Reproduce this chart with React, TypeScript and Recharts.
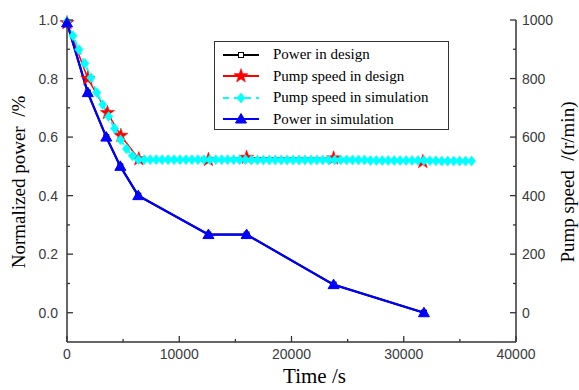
import React from "react";
import { ComposedChart, Line, XAxis, YAxis, Legend } from "recharts";

// Power (normalized) - design and simulation share the same operating points
const powerTimes = [0, 1850, 3500, 4750, 6350, 12600, 16000, 23750, 31800];
const powerDesign = [0.99, 0.752, 0.6, 0.5, 0.4, 0.267, 0.267, 0.096, 0.0];
const powerSim = [0.99, 0.752, 0.6, 0.5, 0.4, 0.267, 0.267, 0.096, 0.0];

// Pump speed in design (r/min)
const speedDesignTimes = [0, 1850, 3600, 4800, 6400, 12600, 16000, 23750, 31700];
const speedDesign = [990, 800, 683, 605, 525, 523, 530, 528, 516];

// Pump speed in simulation (r/min)
const speedSimTimes = [
  0, 530, 1060, 1590, 2120, 2650, 3180, 3710, 4240, 4770, 5300, 5830, 6360,
  6890, 7420, 7950, 8480, 9010, 9540, 10070, 10600, 11130, 11660, 12190, 12720,
  13250, 13780, 14310, 14840, 15370, 15900, 16430, 16960, 17490, 18020, 18550,
  19080, 19610, 20140, 20670, 21200, 21730, 22260, 22790, 23320, 23850, 24380,
  24910, 25440, 25970, 26500, 27030, 27560, 28090, 28620, 29150, 29680, 30210,
  30740, 31270, 31800, 32330, 32860, 33390, 33920, 34450, 34980, 35510, 36040,
];
const speedSim = [
  995, 946, 899, 851, 803, 752, 711, 670, 629, 591, 560, 536, 523,
  523, 523, 523, 523, 523, 523, 523, 523, 523, 523, 523, 523,
  523, 523, 523, 523, 523, 523, 522, 522, 522, 522, 522,
  522, 522, 522, 522, 522, 522, 522, 522, 522, 522, 522,
  522, 522, 522, 522, 520, 520, 520, 520, 520, 520, 520,
  520, 520, 520, 519, 519, 518, 518, 518, 518, 518, 518,
];

const xTicks = [0, 5000, 10000, 15000, 20000, 25000, 30000, 35000, 40000];
const powerTicks = [0, 0.1, 0.2, 0.3, 0.4, 0.5, 0.6, 0.7, 0.8, 0.9, 1.0];
const speedTicks = [0, 100, 200, 300, 400, 500, 600, 700, 800, 900, 1000];

const legendItems = [
  { name: "Power in design", color: "#000000", marker: "square", dashed: false },
  { name: "Pump speed in design", color: "#ff0000", marker: "star", dashed: false },
  { name: "Pump speed in simulation", color: "#00ffff", marker: "diamond", dashed: true },
  { name: "Power in simulation", color: "#0000ff", marker: "triangle", dashed: false },
];

const toRows = (ts: number[], vs: number[]) => ts.map((t, i) => ({ t, v: vs[i] }));
const powerDesignData = toRows(powerTimes, powerDesign);
const powerSimData = toRows(powerTimes, powerSim);
const speedDesignData = toRows(speedDesignTimes, speedDesign);
const speedSimData = toRows(speedSimTimes, speedSim);

const axisColor = "#333";
const tickFont = { fontFamily: "'Liberation Sans', Arial, sans-serif", fontSize: 14, fill: "#3a3a3a" };
const titleFont = { fontFamily: "'Liberation Serif', 'Times New Roman', serif", fill: "#000" };

function Marker({ kind, cx, cy, color }: { kind: string; cx: number; cy: number; color: string }) {
  if (kind === "square") {
    return <rect x={cx - 2.5} y={cy - 2.5} width={5} height={5} fill="#fff" stroke={color} strokeWidth={1} />;
  }
  if (kind === "triangle") {
    const pts = `${cx},${cy - 5.5} ${cx - 5.5},${cy + 4} ${cx + 5.5},${cy + 4}`;
    return <polygon points={pts} fill={color} stroke={color} strokeWidth={1} />;
  }
  if (kind === "diamond") {
    const pts = `${cx},${cy - 5} ${cx + 4.2},${cy} ${cx},${cy + 5} ${cx - 4.2},${cy}`;
    return <polygon points={pts} fill={color} stroke={color} strokeWidth={0.5} />;
  }
  // star
  const pts: string[] = [];
  for (let k = 0; k < 10; k++) {
    const r = k % 2 === 0 ? 7.5 : 3;
    const a = -Math.PI / 2 + (k * Math.PI) / 5;
    pts.push(`${cx + r * Math.cos(a)},${cy + r * Math.sin(a)}`);
  }
  return <polygon points={pts.join(" ")} fill={color} stroke={color} strokeWidth={0.5} />;
}

const dot = (kind: string, color: string) => (props: any) => (
  <Marker key={`${kind}-${props.index}`} kind={kind} cx={props.cx} cy={props.cy} color={color} />
);

const BottomTick = (props: any) => {
  const { x, y, payload } = props;
  const major = payload.value % 10000 === 0;
  return (
    <g>
      <line x1={x} y1={y} x2={x} y2={y - (major ? 6 : 3)} stroke={axisColor} strokeWidth={1.3} />
      {major && (
        <text x={x} y={y + 17} textAnchor="middle" {...tickFont}>
          {payload.value}
        </text>
      )}
    </g>
  );
};

const LeftTick = (props: any) => {
  const { x, y, payload } = props;
  const major = Math.round(payload.value * 10) % 2 === 0;
  return (
    <g>
      <line x1={x} y1={y} x2={x + (major ? 6 : 3)} y2={y} stroke={axisColor} strokeWidth={1.3} />
      {major && (
        <text x={x - 9} y={y + 5} textAnchor="end" {...tickFont}>
          {payload.value.toFixed(1)}
        </text>
      )}
    </g>
  );
};

const RightTick = (props: any) => {
  const { x, y, payload } = props;
  const major = payload.value % 200 === 0;
  return (
    <g>
      <line x1={x} y1={y} x2={x - (major ? 6 : 3)} y2={y} stroke={axisColor} strokeWidth={1.3} />
      {major && (
        <text x={x + 6} y={y + 5} textAnchor="start" {...tickFont}>
          {payload.value}
        </text>
      )}
    </g>
  );
};

const LegendBox = () => (
  <div
    style={{
      width: 235,
      height: 89,
      border: "1.5px solid #333",
      boxSizing: "border-box",
      background: "#fff",
      paddingTop: 2,
    }}
  >
    {legendItems.map((it) => (
      <div key={it.name} style={{ display: "flex", alignItems: "center", height: 21.5 }}>
        <svg width={50} height={20} style={{ marginLeft: 6, flex: "none" }}>
          <line
            x1={2}
            y1={10}
            x2={38}
            y2={10}
            stroke={it.color}
            strokeWidth={2}
            strokeDasharray={it.dashed ? "6 5" : undefined}
          />
          <Marker kind={it.marker} cx={20} cy={10} color={it.color} />
        </svg>
        <span
          style={{
            ...titleFont,
            color: "#000",
            fontSize: 15,
            marginLeft: 2,
            whiteSpace: "nowrap",
          }}
        >
          {it.name}
        </span>
      </div>
    ))}
  </div>
);

export default function App() {
  return (
    <div style={{ position: "absolute", left: 0, top: 0, background: "#fff" }}>
      <ComposedChart width={579} height={390} margin={{ top: 20, right: 0, bottom: 0, left: 0 }}>
        <XAxis
          dataKey="t"
          type="number"
          domain={[0, 40000]}
          ticks={xTicks}
          interval={0}
          height={48}
          tickSize={0}
          tickMargin={0}
          tick={BottomTick}
          axisLine={{ stroke: axisColor, strokeWidth: 1.5 }}
          allowDuplicatedCategory={false}
          label={{
            value: "Time /s",
            content: (p: any) => {
              const vb = p.viewBox;
              return (
                <text x={vb.x + vb.width / 2 + 23} y={vb.y + 41} textAnchor="middle" {...titleFont} fontSize={21}>
                  Time /s
                </text>
              );
            },
          }}
        />
        <YAxis
          yAxisId="left"
          type="number"
          domain={[-0.1, 1.0]}
          ticks={powerTicks}
          interval={0}
          width={67}
          tickSize={0}
          tickMargin={0}
          tick={LeftTick}
          axisLine={{ stroke: axisColor, strokeWidth: 1.5 }}
          label={{
            value: "Normalized power  /%",
            content: (p: any) => {
              const vb = p.viewBox;
              const cx = vb.x + 18;
              const cy = vb.y + vb.height / 2 + 1;
              return (
                <text
                  x={cx}
                  y={cy}
                  transform={`rotate(-90 ${cx} ${cy})`}
                  textAnchor="middle"
                  dominantBaseline="central"
                  {...titleFont}
                  fontSize={19}
                  style={{ whiteSpace: "pre" }}
                >
                  Normalized power  /%
                </text>
              );
            },
          }}
        />
        <YAxis
          yAxisId="right"
          orientation="right"
          type="number"
          domain={[-100, 1000]}
          ticks={speedTicks}
          interval={0}
          width={63}
          tickSize={0}
          tickMargin={0}
          tick={RightTick}
          axisLine={{ stroke: axisColor, strokeWidth: 1.5 }}
          label={{
            value: "Pump speed  /(r/min)",
            content: (p: any) => {
              const vb = p.viewBox;
              const cx = vb.x + 51;
              const cy = vb.y + vb.height / 2 + 1;
              return (
                <text
                  x={cx}
                  y={cy}
                  transform={`rotate(-90 ${cx} ${cy})`}
                  textAnchor="middle"
                  dominantBaseline="central"
                  {...titleFont}
                  fontSize={19}
                  style={{ whiteSpace: "pre" }}
                >
                  Pump speed  /(r/min)
                </text>
              );
            },
          }}
        />
        <Legend
          layout="vertical"
          align="center"
          verticalAlign="middle"
          content={LegendBox}
          wrapperStyle={{ left: 214, top: 41, width: 235, height: 89 }}
        />
        <Line
          yAxisId="left"
          data={powerDesignData}
          dataKey="v"
          name="Power in design"
          stroke="#000"
          strokeWidth={2}
          dot={dot("square", "#000")}
          isAnimationActive={false}
        />
        <Line
          yAxisId="right"
          data={speedDesignData}
          dataKey="v"
          name="Pump speed in design"
          stroke="#ff0000"
          strokeWidth={1.5}
          dot={dot("star", "#ff0000")}
          isAnimationActive={false}
        />
        <Line
          yAxisId="right"
          data={speedSimData}
          dataKey="v"
          name="Pump speed in simulation"
          stroke="#00ffff"
          strokeWidth={2}
          strokeDasharray="6 4"
          dot={dot("diamond", "#00ffff")}
          isAnimationActive={false}
        />
        <Line
          yAxisId="left"
          data={powerSimData}
          dataKey="v"
          name="Power in simulation"
          stroke="#0000ff"
          strokeWidth={2.2}
          dot={dot("triangle", "#0000ff")}
          isAnimationActive={false}
        />
      </ComposedChart>
    </div>
  );
}
